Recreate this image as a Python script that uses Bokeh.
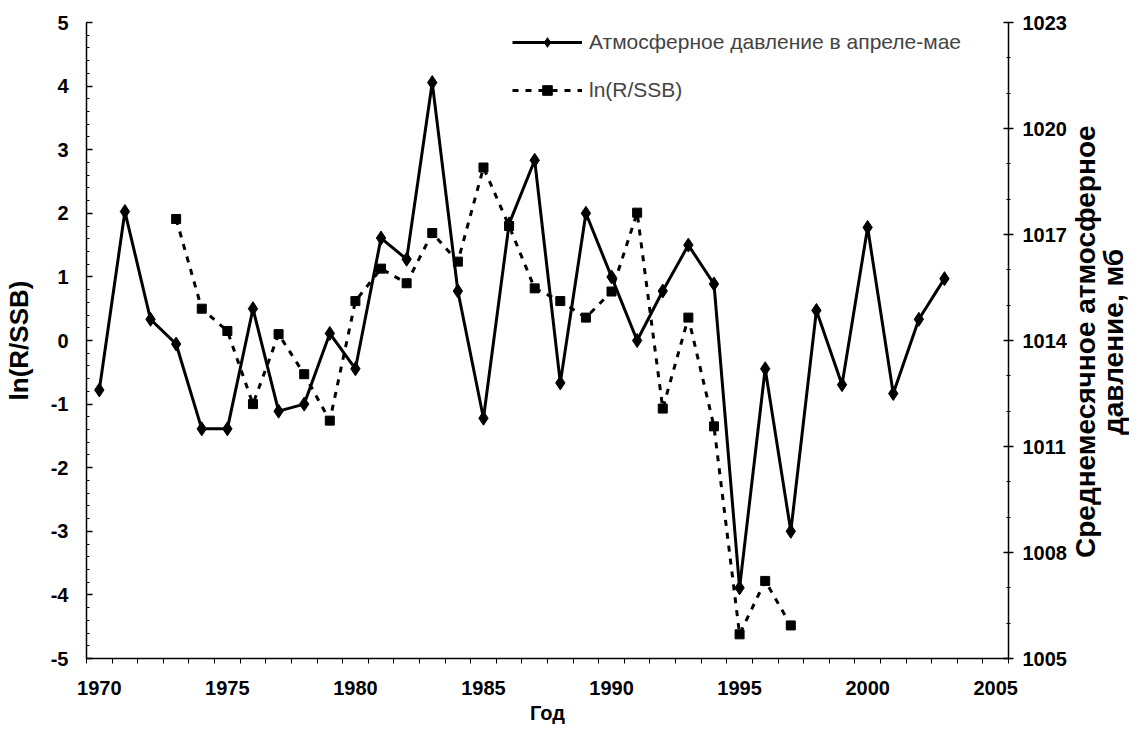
from bokeh.plotting import figure
from bokeh.models import Range1d, LinearAxis, FixedTicker, Div
from bokeh.layouts import row
from bokeh.embed import file_html
from bokeh.resources import INLINE

# ---- data ----
years_pressure = list(range(1970, 2004))
pressure = [1012.6, 1017.65, 1014.6, 1013.9, 1011.5, 1011.5, 1014.9, 1012.0, 1012.2, 1014.2,
            1013.2, 1016.9, 1016.3, 1021.3, 1015.4, 1011.8, 1017.3, 1019.1, 1012.8, 1017.6,
            1015.8, 1014.0, 1015.4, 1016.7, 1015.6, 1007.0, 1013.2, 1008.6, 1014.85, 1012.75,
            1017.2, 1012.5, 1014.6, 1015.75]
years_ln = list(range(1973, 1998))
ln_r_ssb = [1.91, 0.50, 0.15, -1.00, 0.10, -0.53, -1.26, 0.62, 1.13, 0.90,
            1.69, 1.24, 2.72, 1.80, 0.82, 0.62, 0.36, 0.77, 2.01, -1.07,
            0.36, -1.35, -4.62, -3.78, -4.48]
x_ticks = [1970, 1975, 1980, 1985, 1990, 1995, 2000, 2005]
left_ticks = list(range(-5, 6))
right_ticks = [1005, 1008, 1011, 1014, 1017, 1020, 1023]
label_pressure = "Атмосферное давление в апреле-мае"
label_ln = "ln(R/SSB)"
right_title_lines = ["Среднемесячное атмосферное", "давление, мб"]

FONT = "Liberation Sans"

p = figure(width=1072, height=728, output_backend="svg", toolbar_location=None,
           x_range=Range1d(1969.5, 2005.5), y_range=Range1d(-5, 5),
           min_border_left=84, min_border_right=64, min_border_top=22, min_border_bottom=70)
p.outline_line_color = None
p.xgrid.visible = False
p.ygrid.visible = False
p.background_fill_color = "white"

p.extra_y_ranges = {"pres": Range1d(1005, 1023)}

# lines
p.line(years_ln, ln_r_ssb, line_color="black", line_width=3, line_dash="6 7", legend_label=label_ln)
p.scatter(years_ln, ln_r_ssb, marker="square", size=9, color="black", legend_label=label_ln)
p.line(years_pressure, pressure, line_color="black", line_width=3, y_range_name="pres",
       legend_label=label_pressure)
p.scatter(years_pressure, pressure, marker="diamond", size=14, color="black", y_range_name="pres",
          legend_label=label_pressure)

# x axis
xa = p.xaxis[0]
xa.ticker = FixedTicker(ticks=x_ticks, minor_ticks=[y + 0.5 for y in range(1969, 2006)])
xa.major_tick_in = 0
xa.major_tick_out = 0
xa.minor_tick_in = 0
xa.minor_tick_out = 5
xa.major_label_standoff = 17
xa.axis_label = "Год"
xa.axis_label_standoff = 4
xa.axis_label_text_font = FONT
xa.axis_label_text_font_size = "20px"
xa.axis_label_text_font_style = "bold"
xa.major_label_text_font = FONT
xa.major_label_text_font_size = "20px"
xa.major_label_text_font_style = "bold"

# left axis
ya = p.yaxis[0]
ya.ticker = FixedTicker(ticks=left_ticks, minor_ticks=[round(-5 + 0.2 * i, 2) for i in range(51)])
ya.major_label_overrides = {v: str(v) for v in left_ticks}
ya.major_tick_in = 6
ya.major_tick_out = 0
ya.minor_tick_in = 3
ya.minor_tick_out = 0
ya.major_label_standoff = 18
ya.axis_label = label_ln
ya.axis_label_standoff = 14
ya.axis_label_text_font = FONT
ya.axis_label_text_font_size = "26px"
ya.axis_label_text_font_style = "bold"
ya.major_label_text_font = FONT
ya.major_label_text_font_size = "20px"
ya.major_label_text_font_style = "bold"

# right axis
ra = LinearAxis(y_range_name="pres",
                ticker=FixedTicker(ticks=right_ticks, minor_ticks=list(range(1005, 1024))))
ra.major_tick_in = 5
ra.major_tick_out = 5
ra.minor_tick_in = 2
ra.minor_tick_out = 2
ra.major_label_standoff = 9
ra.major_label_text_font = FONT
ra.major_label_text_font_size = "20px"
ra.major_label_text_font_style = "bold"
p.add_layout(ra, "right")

for ax in (xa, ya, ra):
    ax.axis_line_color = "black"
    ax.axis_line_width = 1.5
    ax.major_tick_line_color = "black"
    ax.minor_tick_line_color = "black"
    ax.major_tick_line_width = 1.5
    ax.major_label_text_color = "black"
    ax.axis_label_text_color = "black"

# legend
lg = p.legend[0]
lg.location = (426, 556)
lg.border_line_color = None
lg.background_fill_alpha = 0
lg.label_text_font = FONT
lg.label_text_font_size = "21px"
lg.glyph_width = 70
lg.glyph_height = 24
lg.label_height = 24
lg.label_standoff = 7
lg.padding = 0
lg.margin = 0
lg.spacing = 24
lg.items = [lg.items[1], lg.items[0]]

# right-hand axis title, reading bottom-to-top
title_html = (
    "<div style=\"writing-mode: vertical-rl; transform: rotate(180deg); "
    "height: 636px; margin-top: 24px; text-align: center; white-space: nowrap; "
    "font-family: 'Liberation Sans'; font-weight: bold; font-size: 28px; "
    "line-height: 28px; color: black;\">"
    + right_title_lines[0] + "<br>" + right_title_lines[1] + "</div>"
)
right_title = Div(text=title_html, width=56, height=728, margin=0)

layout = row(p, right_title, spacing=0)

open("out.html", "w").write(file_html(layout, INLINE))
